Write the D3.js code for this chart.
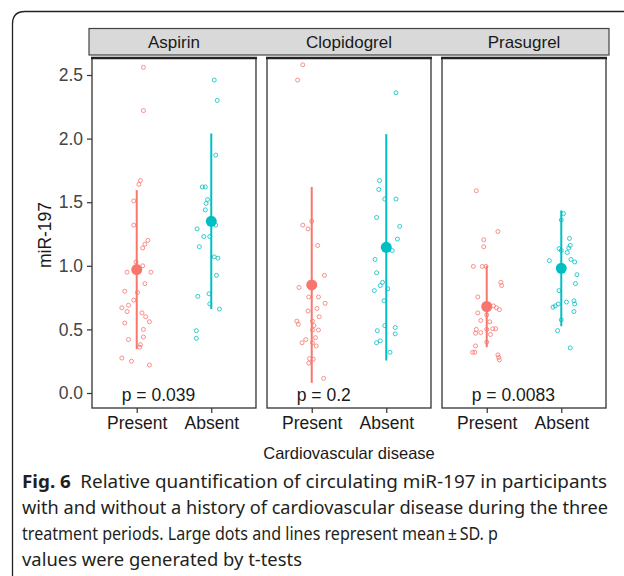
<!DOCTYPE html>
<html lang="en">
<head>
    <meta charset="UTF-8">
    <title>miR-197 by cardiovascular disease</title>
    <script src="https://d3js.org/d3.v7.min.js"></script>
    <style>
        body { margin: 0; background: #fff; }
        svg { display: block; }
    </style>
</head>
<body>

    <svg width="624" height="576"></svg>

    <script>
        // panels and groups
        const drugs = ["Aspirin", "Clopidogrel", "Prasugrel"];
        const groups = ["Present", "Absent"];
        const pLabels = ["p = 0.039", "p = 0.2", "p = 0.0083"];
        const yTicks = [0, 0.5, 1, 1.5, 2, 2.5];

        // mean and SD, per drug: [Present, Absent]
        const means = [[0.97, 1.35], [0.85, 1.145], [0.68, 0.98]];
        const sds = [[0.625, 0.69], [0.77, 0.89], [0.32, 0.455]];

        // individual points (miR-197) and their horizontal jitter (in category steps)
        const aspirinPresent = [2.56, 2.22, 1.67, 1.64, 1.51, 1.32, 1.20, 1.17, 1.14, 1.03, 1.00, 0.95, 0.95, 0.86, 0.80, 0.79,
            0.73, 0.69, 0.67, 0.64, 0.63, 0.60, 0.56, 0.55, 0.50, 0.44, 0.42, 0.38, 0.36, 0.275, 0.25, 0.22];
        const aspirinPresentJitter = [.09, .09, .05, .03, -.04, -.04, .15, .11, .08, -.01, .08, -.13, .19, .11, -.16, .01,
            -.04, -.11, -.2, -.13, .07, .12, .17, -.16, .09, .09, -.11, .05, .04, -.2, -.07, .17];
        const aspirinAbsent = [2.46, 2.30, 1.87, 1.62, 1.62, 1.52, 1.49, 1.44, 1.32, 1.29, 1.23, 1.23, 1.15, 1.07, 1.06,
            0.925, 0.78, 0.76, 0.70, 0.66, 0.49, 0.43];
        const aspirinAbsentJitter = [.04, .08, .06, -.12, -.08, -.05, -.07, -.08, .06, -.19, -.1, -.02, -.16, .04, .09,
            .07, -.03, -.18, -.02, .11, -.2, -.2];

        const clopidogrelPresent = [2.58, 2.46, 1.35, 1.32, 1.29, 1.16, 0.925, 0.83, 0.755, 0.755, 0.705, 0.665, 0.645, 0.60,
            0.565, 0.54, 0.565, 0.53, 0.495, 0.495, 0.435, 0.42, 0.395, 0.395, 0.37, 0.27, 0.265, 0.235, 0.115];
        const clopidogrelPresentJitter = [-.12, -.19, 0, -.12, -.05, .08, .17, -.17, .09, -.04, .18, .07, -.05, .1,
            -.2, -.18, .01, .03, .09, .01, .05, -.08, -.13, .01, .06, -.03, .02, -.04, .16];
        const clopidogrelAbsent = [2.36, 1.67, 1.60, 1.525, 1.525, 1.38, 1.31, 1.21, 1.12, 1.05, 0.945, 0.87, 0.845, 0.82,
            0.805, 0.725, 0.53, 0.515, 0.465, 0.49, 0.41, 0.395, 0.32];
        const clopidogrelAbsentJitter = [.13, -.09, -.1, -.02, .13, -.13, .18, .15, .08, -.15, -.13, -.05, -.08, .02,
            -.16, -.03, -.02, .12, .12, -.12, -.08, -.13, .05];

        const prasugrelPresent = [1.59, 1.27, 1.205, 1.15, 0.995, 0.995, 0.995, 0.87, 0.845, 0.755, 0.685, 0.67, 0.655, 0.63,
            0.615, 0.57, 0.56, 0.50, 0.475, 0.47, 0.50, 0.505, 0.505, 0.46, 0.40, 0.37, 0.32, 0.32, 0.30, 0.28, 0.26];
        const prasugrelPresentJitter = [-.14, .15, -.04, -.04, -.18, -.06, -.01, .19, .2, -.12, .09, .13, .17, -.12,
            0, -.08, .04, -.14, -.08, -.15, 0, .08, .12, .05, 0, -.15, -.19, -.16, .15, .16, .17];
        const prasugrelAbsent = [1.41, 1.36, 1.215, 1.16, 1.14, 1.135, 1.105, 1.12, 1.04, 1.05, 1.03, 0.93, 0.86, 0.805,
            0.725, 0.70, 0.715, 0.70, 0.675, 0.685, 0.64, 0.575, 0.49, 0.355];
        const prasugrelAbsentJitter = [.03, 0, .11, .12, .1, -.03, .08, 0, -.16, .13, .18, .21, .19, -.03,
            .17, .18, .07, -.04, -.11, -.08, .17, 0, -.05, .12];

        const points = [
            [[aspirinPresent, aspirinPresentJitter], [aspirinAbsent, aspirinAbsentJitter]],
            [[clopidogrelPresent, clopidogrelPresentJitter], [clopidogrelAbsent, clopidogrelAbsentJitter]],
            [[prasugrelPresent, prasugrelPresentJitter], [prasugrelAbsent, prasugrelAbsentJitter]]
        ];

        const colors = ["#F8766D", "#00BFC4"];
        const axisFont = "'Liberation Sans', Arial, sans-serif";

        const svg = d3.select("svg");

        // outer figure frame (rounded top-left corner, runs off the right and bottom)
        svg.append("path")
            .attr("d", "M12.5,600 L12.5,24 Q12.5,11.5 25,11.5 L640,11.5")
            .attr("fill", "none")
            .attr("stroke", "#222")
            .attr("stroke-width", 1.3);

        const plot = { left: 92, right: 606, top: 58, bottom: 408 };

        const panelScale = d3.scaleBand()
            .domain(drugs)
            .range([plot.left, plot.right])
            .paddingInner(0.063)
            .paddingOuter(0);

        const y = d3.scaleLinear()
            .domain([0, 2.5])
            .range([393, 75]);

        // one strip across all panels
        svg.append("rect")
            .attr("x", plot.left - 3)
            .attr("y", 28.5)
            .attr("width", plot.right - plot.left + 6)
            .attr("height", 26.5)
            .attr("fill", "#d9d9d9")
            .attr("stroke", "#444")
            .attr("stroke-width", 1.2);

        drugs.forEach((drug, i) => {
            const x0 = panelScale(drug);
            const bw = panelScale.bandwidth();
            const x = d3.scalePoint()
                .domain(groups)
                .range([x0, x0 + bw])
                .padding(0.6);
            const step = x.step();

            const g = svg.append("g");

            // strip label
            svg.append("text")
                .attr("x", x0 + bw / 2)
                .attr("y", 48)
                .attr("text-anchor", "middle")
                .attr("font-family", axisFont)
                .attr("font-size", 17)
                .attr("fill", "#1a1a1a")
                .text(drug);

            // panel border
            g.append("rect")
                .attr("x", x0)
                .attr("y", plot.top)
                .attr("width", bw)
                .attr("height", plot.bottom - plot.top)
                .attr("fill", "#fff")
                .attr("stroke", "#333")
                .attr("stroke-width", 1.3);
            g.append("line")
                .attr("x1", x0 - 1).attr("x2", x0 + bw + 1)
                .attr("y1", plot.top).attr("y2", plot.top)
                .attr("stroke", "#222")
                .attr("stroke-width", 2.5);

            // x axis ticks + labels
            const xAxis = g.append("g")
                .attr("transform", `translate(0,${plot.bottom})`)
                .call(d3.axisBottom(x).tickSize(5).tickPadding(4));
            xAxis.select(".domain").remove();
            xAxis.selectAll(".tick line").attr("stroke", "#333").attr("stroke-width", 1.2);
            xAxis.selectAll(".tick text")
                .attr("font-family", axisFont)
                .attr("font-size", 17.5)
                .attr("fill", "#1a1a1a");

            groups.forEach((grp, j) => {
                const [vals, jit] = points[i][j];
                const cx = x(grp);

                // raw points, open circles
                g.selectAll(null)
                    .data(vals.map((v, k) => ({ v: v, j: jit[k] })))
                    .join("circle")
                    .attr("cx", d => cx + d.j * step)
                    .attr("cy", d => y(d.v))
                    .attr("r", 2)
                    .attr("fill", "none")
                    .attr("stroke", colors[j])
                    .attr("stroke-opacity", 0.8)
                    .attr("stroke-width", 1);

                // mean +/- SD
                const m = means[i][j], s = sds[i][j];
                g.append("line")
                    .attr("x1", cx).attr("x2", cx)
                    .attr("y1", y(m - s)).attr("y2", y(m + s))
                    .attr("stroke", colors[j])
                    .attr("stroke-width", 2);
                g.append("circle")
                    .attr("cx", cx)
                    .attr("cy", y(m))
                    .attr("r", 5.5)
                    .attr("fill", colors[j]);
            });

            // p value label
            g.append("text")
                .attr("x", x("Present") - 15)
                .attr("y", y(0) + 8)
                .attr("font-family", axisFont)
                .attr("font-size", 17.5)
                .attr("fill", "#1a1a1a")
                .text(pLabels[i]);
        });

        // y axis on the first panel
        const yAxis = svg.append("g")
            .attr("transform", `translate(${plot.left},0)`)
            .call(d3.axisLeft(y).tickValues(yTicks).tickFormat(d3.format(".1f")).tickSize(5).tickPadding(4));
        yAxis.select(".domain").remove();
        yAxis.selectAll(".tick line").attr("stroke", "#333").attr("stroke-width", 1.2);
        yAxis.selectAll(".tick text")
            .attr("font-family", axisFont)
            .attr("font-size", 17.5)
            .attr("fill", "#444");

        // axis titles
        svg.append("text")
            .attr("transform", "translate(51,235) rotate(-90)")
            .attr("text-anchor", "middle")
            .attr("font-family", axisFont)
            .attr("font-size", 17.5)
            .attr("fill", "#1a1a1a")
            .text("miR-197");

        svg.append("text")
            .attr("x", (plot.left + plot.right) / 2)
            .attr("y", 459)
            .attr("text-anchor", "middle")
            .attr("font-family", axisFont)
            .attr("font-size", 16.5)
            .attr("fill", "#1a1a1a")
            .text("Cardiovascular disease");

        // figure caption (first two lines justified to the full width)
        const captionFont = "'Noto Sans', 'Open Sans', sans-serif";
        const cap = svg.append("g")
            .attr("font-family", captionFont)
            .attr("font-size", 17.5)
            .attr("fill", "#231f20");

        const l1 = cap.append("text")
            .attr("x", 22).attr("y", 488)
            .attr("textLength", 585)
            .attr("lengthAdjust", "spacingAndGlyphs");
        l1.append("tspan").attr("font-weight", "bold").text("Fig. 6");
        l1.append("tspan").text("\u2002Relative quantification of circulating miR-197 in participants");

        cap.append("text")
            .attr("x", 22).attr("y", 514)
            .attr("textLength", 586)
            .attr("lengthAdjust", "spacingAndGlyphs")
            .text("with and without a history of cardiovascular disease during the three");

        cap.append("text")
            .attr("x", 22).attr("y", 540)
            .attr("textLength", 476)
            .attr("lengthAdjust", "spacingAndGlyphs")
            .text("treatment periods. Large dots and lines represent mean\u2009\u00b1\u2009SD. p");

        cap.append("text")
            .attr("x", 22).attr("y", 566)
            .attr("textLength", 280)
            .attr("lengthAdjust", "spacingAndGlyphs")
            .text("values were generated by t-tests");
    </script>

</body>
</html>
